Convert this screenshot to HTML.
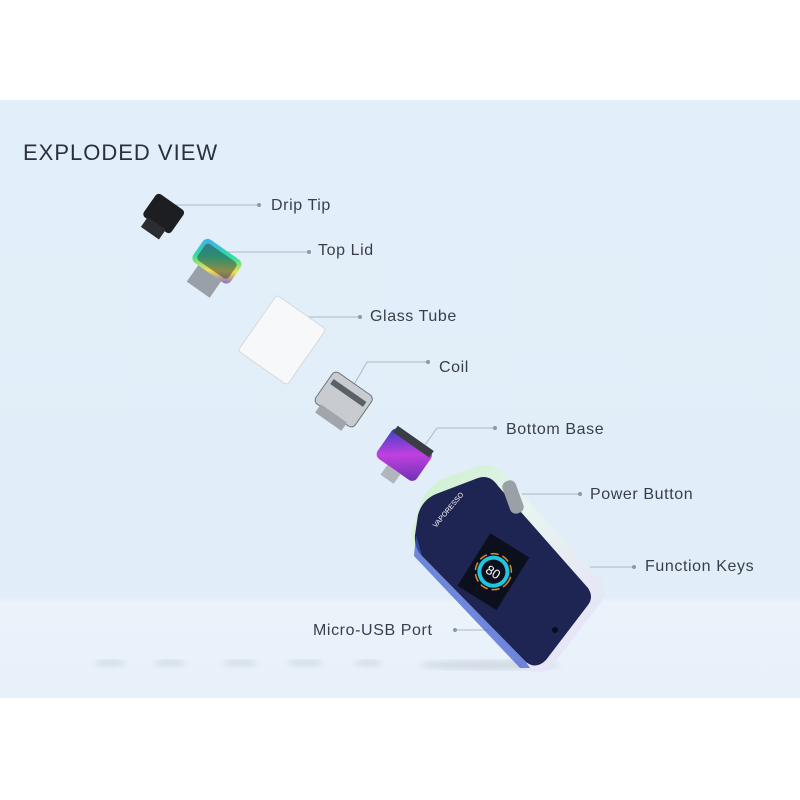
<!DOCTYPE html>
<html><head><meta charset="utf-8"><style>
html,body{margin:0;padding:0;background:#fff;}
body{width:800px;height:800px;position:relative;overflow:hidden;font-family:"Liberation Sans",sans-serif;}
.lbl{position:absolute;font-size:16px;color:#3a3f47;letter-spacing:0.6px;line-height:1;white-space:nowrap;}
</style></head><body>
<svg width="800" height="800" style="position:absolute;left:0;top:0">
<defs>
<linearGradient id="bg" x1="0" y1="0" x2="0" y2="1">
<stop offset="0" stop-color="#e2eef9"/><stop offset="0.83" stop-color="#e1edf8"/><stop offset="0.84" stop-color="#eaf2fa"/><stop offset="1" stop-color="#e8f1fa"/></linearGradient>
<linearGradient id="rb" x1="0" y1="0" x2="1" y2="1">
<stop offset="0" stop-color="#3fa9f5"/><stop offset="0.4" stop-color="#2ee0a0"/><stop offset="0.7" stop-color="#f4e04a"/><stop offset="1" stop-color="#7a5be0"/></linearGradient>
<linearGradient id="pu" x1="0" y1="0" x2="1" y2="1">
<stop offset="0" stop-color="#3040c0"/><stop offset="0.5" stop-color="#c040e0"/><stop offset="1" stop-color="#6a30b0"/></linearGradient>
<linearGradient id="dev" x1="0" y1="0" x2="1" y2="1">
<stop offset="0" stop-color="#c8f0c8"/><stop offset="0.4" stop-color="#e8f4f0"/><stop offset="1" stop-color="#e6e0f8"/></linearGradient>
<filter id="bl"><feGaussianBlur stdDeviation="3"/></filter>
</defs>
<rect x="0" y="100" width="800" height="598" fill="url(#bg)"/>
<g fill="#c9d2dc" filter="url(#bl)" opacity="0.7">
<ellipse cx="110" cy="663" rx="16" ry="3"/><ellipse cx="170" cy="663" rx="16" ry="3"/><ellipse cx="240" cy="663" rx="18" ry="3"/><ellipse cx="305" cy="663" rx="18" ry="3"/><ellipse cx="368" cy="663" rx="14" ry="3"/><ellipse cx="490" cy="665" rx="70" ry="5"/></g>
<g stroke="#aeb8c2" stroke-width="1" fill="none">
<line x1="168" y1="205" x2="259" y2="205"/>
<line x1="222" y1="252" x2="309" y2="252"/>
<line x1="292" y1="317" x2="360" y2="317"/>
<polyline points="352,388 367,362 428,362"/>
<polyline points="420,452 437,428 495,428"/>
<line x1="512" y1="494" x2="580" y2="494"/>
<polyline points="566,600 590,567 634,567"/>
<line x1="455" y1="630" x2="555" y2="630"/>
</g>
<g fill="#8d98a4">
<circle cx="259" cy="205" r="2"/><circle cx="309" cy="252" r="2"/><circle cx="360" cy="317" r="2"/><circle cx="428" cy="362" r="2"/><circle cx="495" cy="428" r="2"/><circle cx="580" cy="494" r="2"/><circle cx="634" cy="567" r="2"/><circle cx="455" cy="630" r="2"/></g>
<g transform="rotate(35 160 217)"><rect x="144" y="198" width="34" height="28" rx="4" fill="#1c1e22"/><rect x="150" y="224" width="22" height="12" fill="#2a2c30"/></g>
<g transform="rotate(35 212 270)"><rect x="188" y="246" width="46" height="28" rx="6" fill="url(#rb)"/><rect x="198" y="274" width="28" height="20" fill="#9aa0a8"/><rect x="192" y="250" width="38" height="20" rx="4" fill="#2a3a40" opacity="0.5"/></g>
<g transform="rotate(35 282 340)"><rect x="252" y="306" width="60" height="68" rx="3" fill="#f6f8fa" stroke="#d4dbe2"/></g>
<g transform="rotate(35 342 402)"><rect x="318" y="380" width="48" height="38" rx="5" fill="#c8ccd0" stroke="#70767c"/><rect x="326" y="416" width="32" height="10" fill="#a0a6ac"/><rect x="322" y="388" width="40" height="6" fill="#5a6068"/></g>
<g transform="rotate(35 402 458)"><rect x="378" y="436" width="48" height="36" rx="6" fill="url(#pu)"/><rect x="380" y="434" width="44" height="8" fill="#3a3e44"/><rect x="394" y="472" width="16" height="12" fill="#b0b6bc"/></g>
<!-- device -->
<path d="M420,505 Q428,485 445,478 L478,466 Q495,462 505,476 L600,578 Q610,592 598,606 L552,666 Q540,678 525,668 L418,555 Q410,545 412,530 Z" fill="url(#dev)"/>
<path d="M418,515 Q422,500 436,494 L478,478 Q490,474 498,486 L588,588 Q594,597 588,605 L546,660 Q536,670 526,662 L422,556 Q414,548 415,535 Z" fill="#1f2552"/>
<path d="M416,535 L422,556 L526,662 L530,668 L520,668 L414,556 Z" fill="#3a5ad0" opacity="0.7"/>
<rect x="506" y="480" width="14" height="34" rx="6" fill="#9aa0a8" transform="rotate(-20 513 497)"/>
<g transform="rotate(32 492 572)">
<rect x="470" y="540" width="46" height="62" fill="#0c0f1c"/>
<circle cx="493" cy="571" r="14" fill="none" stroke="#1fc6e0" stroke-width="4"/>
<circle cx="493" cy="571" r="18" fill="none" stroke="#e08a2a" stroke-width="1.5" stroke-dasharray="8 4"/>
<text x="493" y="576" font-size="13" fill="#fff" text-anchor="middle" font-family="Liberation Sans">80</text>
</g>
<text x="436" y="528" font-size="7" fill="#fff" transform="rotate(-50 436 528)" font-family="Liberation Sans">VAPORESSO</text>
<circle cx="555" cy="630" r="3" fill="#0a0c18"/>
</svg>
<div class="lbl" style="left:23px;top:142px;font-size:22px;color:#2a303c;letter-spacing:1px">EXPLODED VIEW</div>
<div class="lbl" style="left:271px;top:198px">Drip Tip</div>
<div class="lbl" style="left:318px;top:243px">Top Lid</div>
<div class="lbl" style="left:370px;top:309px">Glass Tube</div>
<div class="lbl" style="left:439px;top:360px">Coil</div>
<div class="lbl" style="left:506px;top:422px">Bottom Base</div>
<div class="lbl" style="left:590px;top:487px">Power Button</div>
<div class="lbl" style="left:645px;top:559px">Function Keys</div>
<div class="lbl" style="left:313px;top:623px">Micro-USB Port</div>
</body></html>
